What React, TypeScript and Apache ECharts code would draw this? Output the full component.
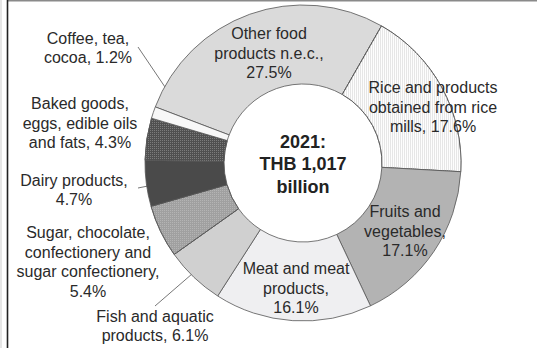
import React, { useEffect, useRef } from "react";
import * as echarts from "echarts";

const categories = [
  "Other food\nproducts n.e.c.,\n",
  "Rice and products\nobtained from rice\nmills, ",
  "Fruits and\nvegetables,\n",
  "Meat and meat\nproducts,\n",
  "Fish and aquatic\nproducts, ",
  "Sugar, chocolate,\nconfectionery and\nsugar confectionery,\n",
  "Dairy products,\n",
  "Baked goods,\neggs, edible oils\nand fats, ",
  "Coffee, tea,\ncocoa, ",
];
const shares = [27.5, 17.6, 17.1, 16.1, 6.1, 5.4, 4.7, 4.3, 1.2];
const centerText = "2021:\nTHB 1,017\nbillion";

const CX = 303;
const CY = 163;
const R_IN = 79;
const R_OUT = 158;
const START = 159.2;

const fills = [
  "#dadada",
  "#fdfdfd",
  "#b3b3b3",
  "#efeff1",
  "#d0d0d0",
  "#a0a0a0",
  "#4a4a4a",
  "#505050",
  "#f7f7f7",
];

const decals: Record<number, any> = {
  1: { symbol: "rect", symbolSize: 1, color: "#e6e6e6", dashArrayX: [1, 1], dashArrayY: [2, 0] },
  5: { symbol: "rect", symbolSize: 1, color: "#b4b4b4", dashArrayX: [1, 1], dashArrayY: [1, 1] },
  7: { symbol: "rect", symbolSize: 1, color: "#7c7c7c", dashArrayX: [1, 1], dashArrayY: [1, 1] },
};

// label anchor (centre of text block)
const labelAt: Record<number, [number, number]> = {
  0: [269, 53],
  1: [433, 107],
  2: [405, 231],
  3: [296, 288],
  4: [155, 326],
  5: [88, 262],
  6: [74, 190],
  7: [80, 123],
  8: [88, 48],
};
// where leader lines end near the text
const lineEnd: Record<number, [number, number]> = {
  4: [155, 306],
  6: [138, 188],
  8: [138, 47],
};

function midPoint(i: number, r: number): [number, number] {
  const total = shares.reduce((a, b) => a + b, 0);
  let acc = 0;
  for (let k = 0; k < i; k++) acc += shares[k];
  const frac = (acc + shares[i] / 2) / total;
  const ang = ((START - frac * 360) * Math.PI) / 180;
  return [CX + r * Math.cos(ang), CY - r * Math.sin(ang)];
}

export default function App() {
  const ref = useRef<HTMLDivElement>(null);
  useEffect(() => {
    if (!ref.current) return;
    const chart = echarts.init(ref.current, undefined, { renderer: "svg" });
    const font = "'Liberation Sans', Arial, sans-serif";
    const data = shares.map((v, i) => ({
      name: categories[i],
      value: v,
      itemStyle: {
        color: fills[i],
        ...(decals[i] ? { decal: decals[i] } : {}),
      },
      label: { position: i < 4 ? "inside" : "outside" },
      labelLine: { show: lineEnd[i] !== undefined },
    }));
    chart.setOption({
      animation: false,
      backgroundColor: "#ffffff",
      graphic: [
        { type: "rect", shape: { x: 0, y: 0, width: 2, height: 348 }, style: { fill: "#e6e6e6" } },
        { type: "line", shape: { x1: 7, y1: 0.75, x2: 537, y2: 0.75 }, style: { stroke: "#8a8a8a", lineWidth: 1.5 } },
        { type: "line", shape: { x1: 7.5, y1: 0, x2: 7.5, y2: 348 }, style: { stroke: "#222", lineWidth: 1.6 } },
        {
          type: "text",
          x: CX,
          y: CY + 1,
          z: 10,
          style: {
            text: centerText,
            align: "center",
            verticalAlign: "middle",
            font: "bold 18px " + font,
            lineHeight: 22.5,
            fill: "#222",
          },
        },
      ],
      series: [
        {
          type: "pie",
          center: [CX, CY],
          radius: [R_IN, R_OUT],
          startAngle: START,
          clockwise: true,
          avoidLabelOverlap: false,
          itemStyle: { borderColor: "#555", borderWidth: 0.8 },
          label: {
            show: true,
            formatter: (p: any) => `${p.name}${p.value.toFixed(1)}%`,
            fontFamily: font,
            fontSize: 16,
            lineHeight: 19.5,
            color: "#2a2a2a",
            align: "center",
          },
          labelLine: { show: true, lineStyle: { color: "#777", width: 1 } },
          labelLayout: (params: any) => {
            const i = params.dataIndex;
            const pos = labelAt[i];
            const out: any = {
              x: pos[0],
              y: pos[1],
              align: "center",
              verticalAlign: "middle",
            };
            if (lineEnd[i]) {
              const s = midPoint(i, (R_IN + R_OUT) / 2);
              const e = lineEnd[i];
              out.labelLinePoints = [s, e, e];
            }
            return out;
          },
          emphasis: { disabled: true },
          data,
        },
      ],
    });
    return () => chart.dispose();
  }, []);
  return (
    <div
      ref={ref}
      style={{ position: "absolute", left: 0, top: 0, width: 537, height: 348 }}
    />
  );
}
